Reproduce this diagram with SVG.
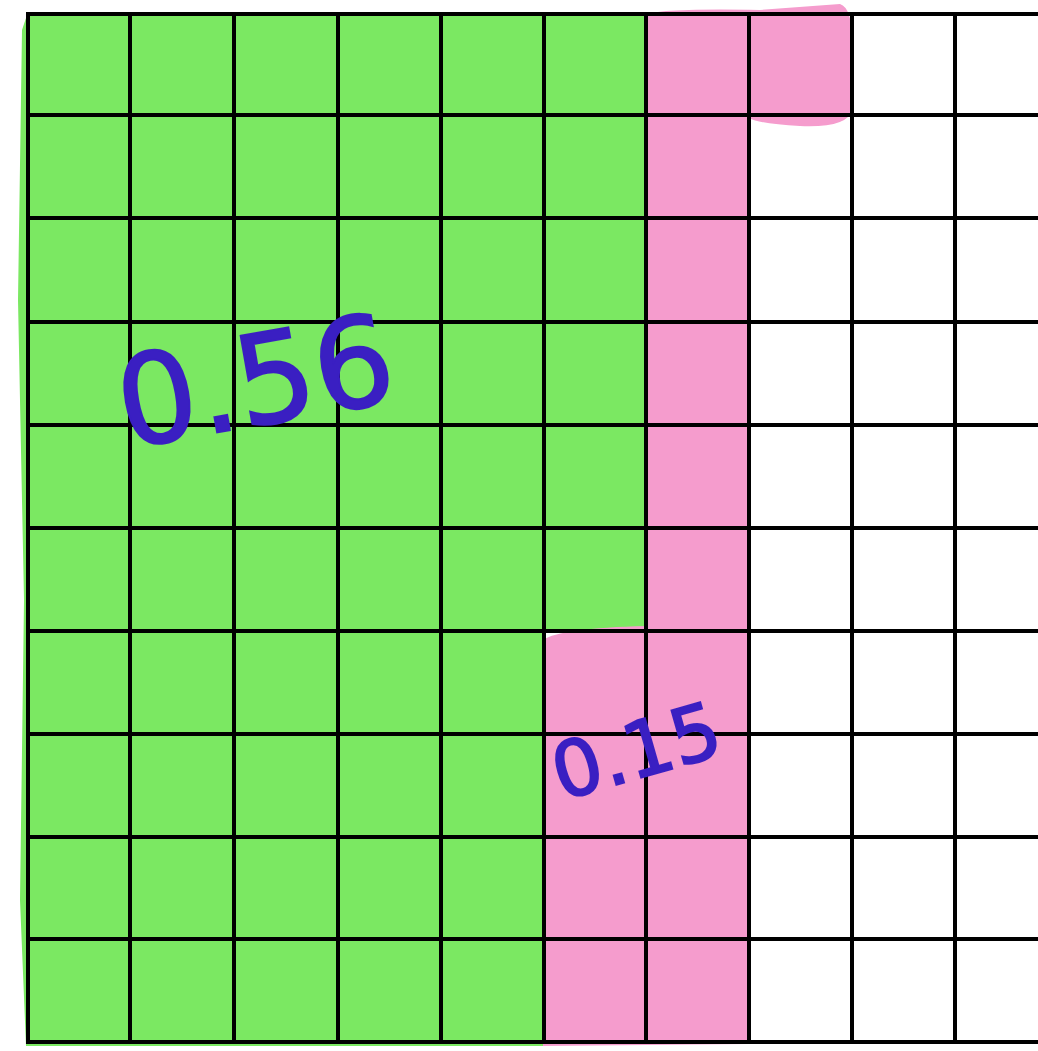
<svg xmlns="http://www.w3.org/2000/svg" width="1038" height="1051" viewBox="0 0 1038 1051">
<style>
.grid line{stroke:#000;stroke-width:4}
.lbl{font-family:"DejaVu Sans",sans-serif;fill:#3a1fc2;stroke:#3a1fc2;stroke-width:2;text-anchor:middle}
</style>
<rect width="1038" height="1051" fill="#fff"/>
<g id="green">
<polygon points="22,30 28,12 646,12 646,631 543,631 543,1046 26,1046 20,900 24,600 18,300" fill="#7be862"/>
</g>
<g id="pink">
<path d="M646,16 Q650,8 760,10 L840,4 Q852,8 852,40 L852,110 Q848,128 800,126 Q760,124 749,118 L749,1044 L543,1046 L543,640 Q560,628 646,626 Z" fill="#f59ccd"/>
</g>
<g class="grid" id="grid">
<line x1="28" y1="14" x2="1038" y2="14"/>
<line x1="28" y1="115" x2="1038" y2="115"/>
<line x1="28" y1="218" x2="1038" y2="218"/>
<line x1="28" y1="322" x2="1038" y2="322"/>
<line x1="28" y1="425" x2="1038" y2="425"/>
<line x1="28" y1="528" x2="1038" y2="528"/>
<line x1="28" y1="631" x2="1038" y2="631"/>
<line x1="28" y1="734" x2="1038" y2="734"/>
<line x1="28" y1="837" x2="1038" y2="837"/>
<line x1="28" y1="939" x2="1038" y2="939"/>
<line x1="28" y1="1042" x2="1038" y2="1042"/>
<line x1="28" y1="12" x2="28" y2="1044"/>
<line x1="130" y1="12" x2="130" y2="1044"/>
<line x1="234" y1="12" x2="234" y2="1044"/>
<line x1="338" y1="12" x2="338" y2="1044"/>
<line x1="441" y1="12" x2="441" y2="1044"/>
<line x1="544" y1="12" x2="544" y2="1044"/>
<line x1="646" y1="12" x2="646" y2="1044"/>
<line x1="749" y1="12" x2="749" y2="1044"/>
<line x1="852" y1="12" x2="852" y2="1044"/>
<line x1="955" y1="12" x2="955" y2="1044"/>
</g>
<g id="labels">
<text class="lbl" x="255" y="425" font-size="125" transform="rotate(-10 255 380)">0.56</text>
<text class="lbl" x="636" y="778" font-size="77" transform="rotate(-16 636 750)">0.15</text>
</g>
</svg>
